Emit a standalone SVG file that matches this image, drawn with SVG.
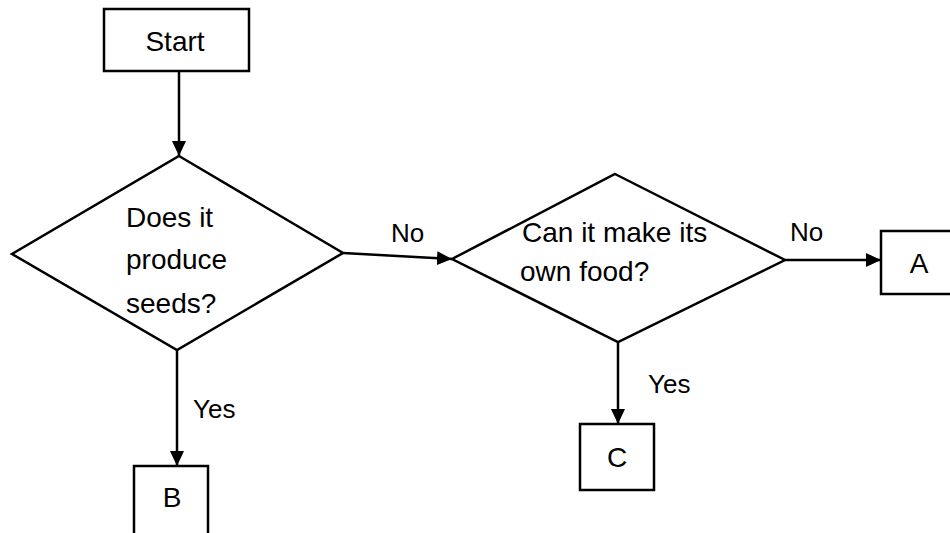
<svg xmlns="http://www.w3.org/2000/svg" width="950" height="533" viewBox="0 0 950 533">
<defs>
<marker id="arr" markerUnits="userSpaceOnUse" markerWidth="16" markerHeight="14" refX="15" refY="7" orient="auto">
<path d="M0,0 L15,7 L0,14 Z" fill="#000"/>
</marker>
<style>
.s{fill:#fff;stroke:#000;stroke-width:2.5}
.c{fill:none;stroke:#000;stroke-width:2.5;marker-end:url(#arr)}
text{font-family:"Liberation Sans",Arial,sans-serif;font-size:28px;fill:#000}
.l{font-size:26px}
.m{text-anchor:middle}
</style>
</defs>
<rect width="950" height="533" fill="#fff"/>
<g id="connectors">
<line class="c" x1="179" y1="71" x2="179" y2="156"/>
<line class="c" x1="343" y1="253" x2="452" y2="259"/>
<line class="c" x1="785" y1="260" x2="881" y2="260"/>
<line class="c" x1="618" y1="342" x2="618" y2="424"/>
<line class="c" x1="177" y1="350" x2="177" y2="466"/>
<text class="l" x="391" y="242">No</text>
<text class="l" x="790" y="241">No</text>
<text class="l" x="193" y="418">Yes</text>
<text class="l" x="648" y="393">Yes</text>
</g>
<g id="start">
<rect class="s" x="104" y="9" width="145" height="62"/>
<text class="m" x="175" y="51">Start</text>
</g>
<g id="q1">
<polygon class="s" points="179,156 343,253 177,350 12,254"/>
<text x="126" y="227">Does it</text>
<text x="126" y="269">produce</text>
<text x="126" y="313">seeds?</text>
</g>
<g id="q2">
<polygon class="s" points="615,174 785,260 618,342 452,259"/>
<text x="522" y="242">Can it make its</text>
<text x="520" y="281">own food?</text>
</g>
<g id="A">
<rect class="s" x="881" y="231" width="80" height="63"/>
<text class="m" x="919" y="273">A</text>
</g>
<g id="C">
<rect class="s" x="580" y="424" width="74" height="66"/>
<text class="m" x="617" y="467">C</text>
</g>
<g id="B">
<rect class="s" x="134" y="466" width="74" height="80"/>
<text class="m" x="172" y="507">B</text>
</g>
</svg>
